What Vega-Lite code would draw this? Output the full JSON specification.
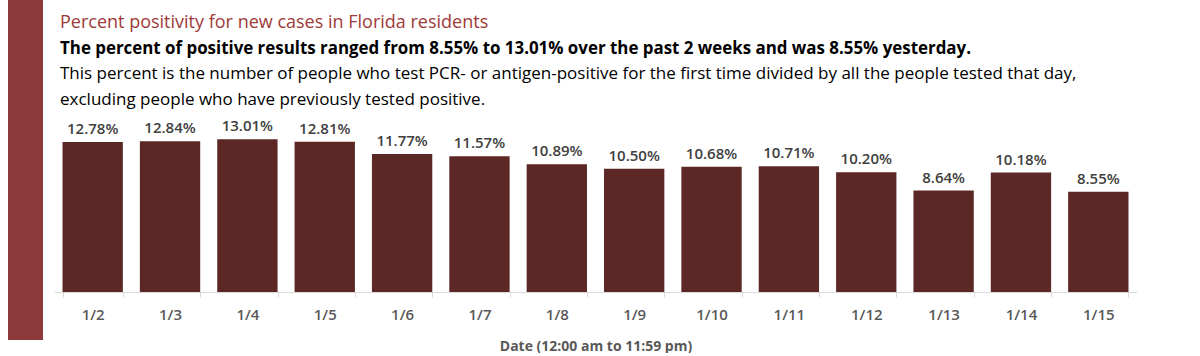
{
  "$schema": "https://vega.github.io/schema/vega-lite/v6.json",
  "padding": {"left": 8, "top": 0, "right": 0, "bottom": 0},
  "background": "white",
  "config": {"view": {"stroke": null}, "font": "Open Sans", "concat": {"spacing": 11}},
  "hconcat": [
    {
      "width": 35,
      "height": 340,
      "view": {"fill": "#8E3A3A", "stroke": null},
      "data": {"values": []},
      "mark": "point"
    },
    {
      "spacing": 6,
      "vconcat": [
        {
          "width": 1083,
          "height": 110,
          "data": {
            "values": [
              {"line": 1, "text": "Percent positivity for new cases in Florida residents"},
              {"line": 2, "text": "The percent of positive results ranged from 8.55% to 13.01% over the past 2 weeks and was 8.55% yesterday."},
              {"line": 3, "text": "This percent is the number of people who test PCR- or antigen-positive for the first time divided by all the people tested that day,"},
              {"line": 4, "text": "excluding people who have previously tested positive."}
            ]
          },
          "encoding": {
            "x": {"value": 0},
            "y": {"field": "line", "type": "ordinal", "scale": {"type": "point", "range": [28, 105], "padding": 0}, "axis": null},
            "text": {"field": "text"}
          },
          "layer": [
            {
              "transform": [{"filter": "datum.line == 1"}],
              "mark": {"type": "text", "align": "left", "baseline": "alphabetic", "dx": 6, "fontSize": 18, "fontWeight": "normal", "color": "#9E3A38"}
            },
            {
              "transform": [{"filter": "datum.line == 2"}],
              "mark": {"type": "text", "align": "left", "baseline": "alphabetic", "dx": 6, "fontSize": 16.9, "fontWeight": "bold", "color": "#000000"}
            },
            {
              "transform": [{"filter": "datum.line >= 3"}],
              "mark": {"type": "text", "align": "left", "baseline": "alphabetic", "dx": 6, "fontSize": 17, "fontWeight": "normal", "color": "#000000"}
            }
          ]
        },
        {
          "width": 1083,
          "height": 176,
          "data": {
            "values": [
              {"date": "1/2", "pct": 0.1278},
              {"date": "1/3", "pct": 0.1284},
              {"date": "1/4", "pct": 0.1301},
              {"date": "1/5", "pct": 0.1281},
              {"date": "1/6", "pct": 0.1177},
              {"date": "1/7", "pct": 0.1157},
              {"date": "1/8", "pct": 0.1089},
              {"date": "1/9", "pct": 0.1050},
              {"date": "1/10", "pct": 0.1068},
              {"date": "1/11", "pct": 0.1071},
              {"date": "1/12", "pct": 0.1020},
              {"date": "1/13", "pct": 0.0864},
              {"date": "1/14", "pct": 0.1018},
              {"date": "1/15", "pct": 0.0855}
            ]
          },
          "encoding": {
            "x": {
              "field": "date",
              "type": "nominal",
              "sort": null,
              "scale": {"paddingInner": 0.22, "paddingOuter": 0.11},
              "axis": {
                "title": "Date (12:00 am to 11:59 pm)",
                "titleFontSize": 14,
                "titleFontWeight": "bold",
                "titleColor": "#595959",
                "titlePadding": 17,
                "labelAngle": 0,
                "labelFontSize": 15,
                "labelFontWeight": 600,
                "labelColor": "#595959",
                "labelPadding": 10,
                "tickBand": "extent",
                "tickSize": 5,
                "tickColor": "#d9d9d9",
                "domainColor": "#d9d9d9",
                "grid": false
              }
            },
            "y": {
              "field": "pct",
              "type": "quantitative",
              "scale": {"domain": [0, 0.15]},
              "axis": null
            }
          },
          "layer": [
            {"mark": {"type": "bar", "color": "#5C2825"}},
            {
              "mark": {"type": "text", "baseline": "bottom", "dy": -5, "fontSize": 15, "fontWeight": 600, "color": "#404040"},
              "encoding": {"text": {"field": "pct", "type": "quantitative", "format": ".2%"}}
            }
          ]
        }
      ]
    }
  ]
}
